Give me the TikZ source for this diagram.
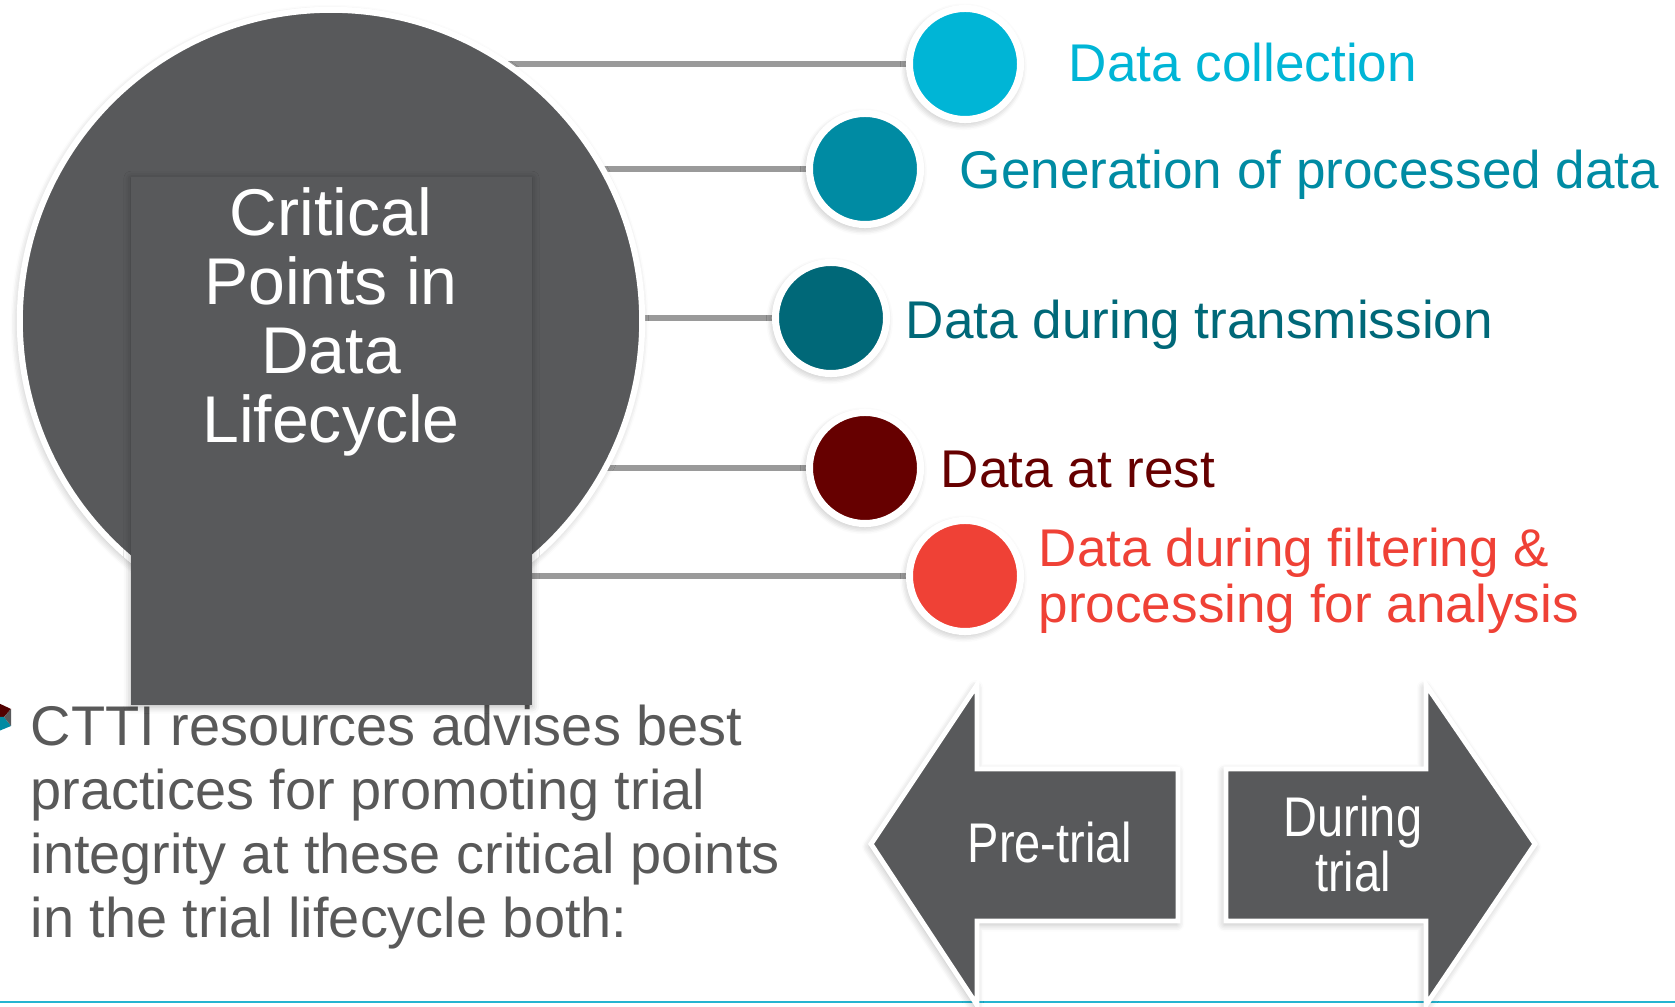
\documentclass[tikz,border=0pt]{standalone}
\usepackage{fontspec}
\setmainfont{Liberation Sans}
\newfontfamily\narrowsans[FakeStretch=0.84]{Liberation Sans}
\usetikzlibrary{positioning, shadows, shadows.blur}
\definecolor{hubgray}{HTML}{58595B}
\definecolor{linkgray}{HTML}{9A9A9A}
\definecolor{bodygray}{HTML}{595959}
\definecolor{rulecyan}{HTML}{25B4D0}
\definecolor{ptcyan}{HTML}{00B5D6}
\definecolor{ptteal}{HTML}{008BA3}
\definecolor{ptpetrol}{HTML}{006878}
\definecolor{ptmaroon}{HTML}{660000}
\definecolor{ptred}{HTML}{EF4136}
\tikzset{
  soft/.style={blur shadow={shadow xshift=-0.4pt, shadow yshift=-0.8pt,
               shadow blur radius=2.2pt, shadow blur steps=6,
               shadow opacity=#1}},
  soft/.default=35,
  hub/.style={circle, fill=hubgray, draw=white, line width=1.7pt,
              minimum size=6.22cm, inner sep=0pt, soft=30},
  panel/.style={rectangle, fill=hubgray, minimum width=4.01cm,
                minimum height=5.28cm, inner sep=0pt,
                blur shadow={shadow xshift=0pt, shadow yshift=-0.4pt,
                             shadow blur radius=2pt, shadow opacity=30}},
  dot/.style={circle, draw=white, line width=2pt, minimum size=1.11cm,
              inner sep=0pt, soft},
  link/.style={draw=linkgray, line width=1.6pt},
  lbl/.style={anchor=base west, inner sep=0pt,
              font=\fontsize{15.1}{15.9}\selectfont},
  bigarrow/.style={fill=hubgray, draw=white, line width=1.4pt,
                   line join=miter, soft=30},
  arrowtext/.style={text=white, inner sep=0pt, align=center,
                    font=\narrowsans\fontsize{15.9}{14.2}\selectfont},
}

\begin{document}
\begin{tikzpicture}[x=0.01cm, y=-0.01cm]
  \useasboundingbox (0,0) rectangle (1675,1007);

  % rule along the foot of the slide
  \draw[rulecyan, line width=0.6pt] (0,1002) -- (1675,1002);

  % bullet text, partly under the panel
  \fill[ptmaroon!80!black] (-6,701) -- (11,709) -- (4,717) -- (-6,717) -- cycle;
  \fill[ptteal] (-6,717) -- (4,717) -- (11,726) -- (-6,733) -- cycle;
  \fill[hubgray] (4,717) -- (11,709) -- (11,726) -- cycle;
  \node[anchor=north west, inner sep=0pt, align=left, text=bodygray,
        font=\fontsize{15.9}{18.2}\selectfont] (bullet) at (30,704)
        {CTTI resources advises best\\
         practices for promoting trial\\
         integrity at these critical points\\
         in the trial lifecycle both:};

  % positions of the hub and its five points
  \coordinate (hc) at (331,321);
  \coordinate (p1) at (965,64);
  \coordinate (p2) at (865,169);
  \coordinate (p3) at (831,318);
  \coordinate (p4) at (865,468);
  \coordinate (p5) at (965,576);

  % spokes go first so the circles cover their ends
  \foreach \p in {p1,p2,p3,p4,p5}
    \draw[link] (hc |- \p) -- (\p);

  \node[hub] (hub) at (hc) {};
  \node[dot, fill=ptcyan]   (c1) at (p1) {};
  \node[dot, fill=ptteal]   (c2) at (p2) {};
  \node[dot, fill=ptpetrol] (c3) at (p3) {};
  \node[dot, fill=ptmaroon] (c4) at (p4) {};
  \node[dot, fill=ptred]    (c5) at (p5) {};

  \node[panel] (panel) at (331.5,441) {};
  \node[anchor=north, inner sep=0pt, align=center, text=white,
        font=\fontsize{18.8}{19.6}\selectfont] (title) at (331,187)
        {Critical\\ Points in\\ Data\\ Lifecycle};

  \node[lbl, text=ptcyan]   (l1) at (1068,82)  {Data collection};
  \node[lbl, text=ptteal]   (l2) at (959,189)  {Generation of processed data};
  \node[lbl, text=ptpetrol] (l3) at (905,339)  {Data during transmission};
  \node[lbl, text=ptmaroon] (l4) at (940,488)  {Data at rest};
  \node[lbl, anchor=north west, align=left, text=ptred,
        font=\fontsize{15.1}{15.9}\selectfont] (l5) at (1038,527)
        {Data during filtering \&\\ processing for analysis};

  % pre-trial / during-trial arrows
  \draw[bigarrow] (871,844) -- (977,685) -- (977,769) -- (1178,769)
    -- (1178,921) -- (977,921) -- (977,1005) -- cycle;
  \draw[bigarrow] (1535,844) -- (1426,685) -- (1426,769) -- (1226,769)
    -- (1226,921) -- (1426,921) -- (1426,1005) -- cycle;
  \node[arrowtext, anchor=base] (pre) at (1050,863) {Pre-trial};
  \node[arrowtext, anchor=north] (during) at (1353,795) {During\\ trial};
\end{tikzpicture}
\end{document}
